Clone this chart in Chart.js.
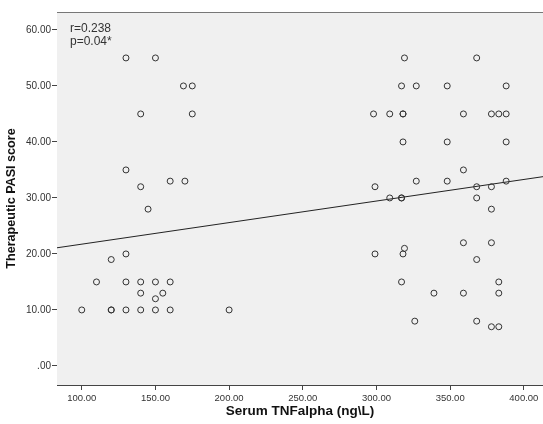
<!DOCTYPE html>
<html>
<head>
<meta charset="utf-8">
<script src="https://cdn.jsdelivr.net/npm/chart.js@4.4.1/dist/chart.umd.min.js"></script>
<style>
  html, body { margin: 0; padding: 0; background: #fff; }
  canvas { display: block; }
</style>
</head>
<body>
<canvas id="chart" width="543" height="424"></canvas>
<script>
// serum TNF-alpha (ng/L) vs therapeutic PASI score
const tnf = [
  130, 150, 169, 175, 140, 175, 130, 140, 160, 170, 145, 120, 130, 110, 130,
  140, 150, 160, 140, 155, 150, 100, 120, 120, 130, 140, 150, 160, 200,
  319, 368, 317, 327, 348, 388, 298, 309, 318, 318, 359, 378, 383, 388,
  318, 348, 388, 359, 327, 348, 388, 368, 378, 299, 309, 317, 317, 368,
  378, 299, 319, 318, 359, 378, 368, 317, 383, 339, 359, 383, 326, 368,
  378, 383
];
const pasi = [
  55, 55, 50, 50, 45, 45, 35, 32, 33, 33, 28, 19, 20, 15, 15,
  15, 15, 15, 13, 13, 12, 10, 10, 10, 10, 10, 10, 10, 10,
  55, 55, 50, 50, 50, 50, 45, 45, 45, 45, 45, 45, 45, 45,
  40, 40, 40, 35, 33, 33, 33, 32, 32, 32, 30, 30, 30, 30,
  28, 20, 21, 20, 22, 22, 19, 15, 15, 13, 13, 13, 8, 8,
  7, 7
];

// fit line end points (at the plot edges)
const fitX = [83.2, 413];
const fitY = [21.1, 33.8];

const xTicks = [100, 150, 200, 250, 300, 350, 400];
const yTicks = [0, 10, 20, 30, 40, 50, 60];
const statsText = ['r=0.238', 'p=0.04*'];

const points = tnf.map((x, i) => ({ x: x, y: pasi[i] }));
const fit = fitX.map((x, i) => ({ x: x, y: fitY[i] }));

const plotBox = {
  id: 'plotBox',
  beforeDatasetsDraw(chart) {
    const { ctx, chartArea: a } = chart;
    ctx.save();
    ctx.fillStyle = '#f0f0f0';
    ctx.fillRect(a.left, a.top, a.right - a.left, a.bottom - a.top);
    ctx.strokeStyle = '#777';
    ctx.lineWidth = 1;
    ctx.beginPath();
    ctx.moveTo(a.left, a.top + 0.5);
    ctx.lineTo(a.right, a.top + 0.5);
    ctx.stroke();
    ctx.fillStyle = '#333';
    ctx.font = '12px "Liberation Sans", Arial, sans-serif';
    ctx.textBaseline = 'middle';
    statsText.forEach((t, i) => ctx.fillText(t, a.left + 13, a.top + 17 + i * 12.5));
    ctx.restore();
  }
};

const fam = '"Liberation Sans", Arial, sans-serif';

new Chart(document.getElementById('chart').getContext('2d'), {
  type: 'scatter',
  data: {
    datasets: [{
      data: points,
      pointStyle: 'circle',
      radius: 3,
      borderWidth: 1,
      borderColor: '#333',
      backgroundColor: 'rgba(0,0,0,0)'
    }, {
      type: 'line',
      data: fit,
      borderColor: '#222',
      borderWidth: 1,
      pointRadius: 0,
      fill: false
    }]
  },
  options: {
    responsive: false,
    animation: false,
    layout: { autoPadding: false, padding: { top: 12, right: 0, left: 0, bottom: 0 } },
    plugins: { legend: { display: false }, tooltip: { enabled: false } },
    scales: {
      x: {
        type: 'linear',
        min: 83.2,
        max: 413,
        afterBuildTicks: s => { s.ticks = xTicks.map(v => ({ value: v })); },
        afterFit: s => { s.height = 39; s.paddingRight = 0; s.paddingLeft = 0; },
        grid: { drawOnChartArea: false, tickLength: 5, color: '#444' },
        border: { color: '#444' },
        ticks: { padding: 3, color: '#333', font: { family: fam, size: 9.5 }, callback: v => v.toFixed(2) },
        title: { display: true, text: 'Serum TNFalpha (ng\\L)', color: '#111', font: { family: fam, size: 13.5, weight: 'bold' }, padding: { top: 0, bottom: 5 } }
      },
      y: {
        min: -3.4,
        max: 63.2,
        afterBuildTicks: s => { s.ticks = yTicks.map(v => ({ value: v })); },
        afterFit: s => { s.width = 57; s.paddingTop = 0; s.paddingBottom = 0; },
        grid: { drawOnChartArea: false, tickLength: 5, color: '#444' },
        border: { color: '#444' },
        ticks: { padding: 1, color: '#333', font: { family: fam, size: 10 }, callback: v => v === 0 ? '.00' : v.toFixed(2) },
        title: { display: true, text: 'Therapeutic PASI score', color: '#111', font: { family: fam, size: 12.6, weight: 'bold' }, padding: { top: 4, bottom: 0 } }
      }
    }
  },
  plugins: [plotBox]
});
</script>
</body>
</html>
